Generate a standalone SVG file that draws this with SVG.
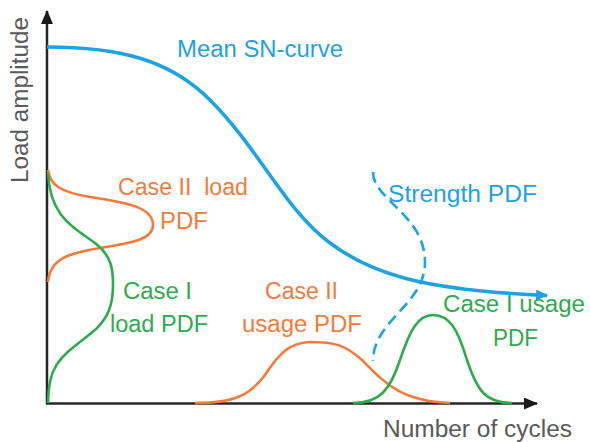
<svg xmlns="http://www.w3.org/2000/svg" width="590" height="442" viewBox="0 0 590 442">
  <style>
    text { font-family: "Liberation Sans", Arial, sans-serif; font-size: 23px; }
    .axis { stroke: #262626; stroke-width: 2.5; fill: none; }
    .axis-label { fill: #595959; }
    .blue { stroke: #1ea2e0; fill: none; }
    .orange { stroke: #f47a3c; fill: none; stroke-width: 2.6; }
    .green { stroke: #2eab4f; fill: none; stroke-width: 2.6; }
    .t-blue { fill: #1ea2e0; }
    .t-orange { fill: #f47a3c; }
    .t-green { fill: #2eab4f; }
  </style>
  <defs>
    <marker id="axisHead" viewBox="0 0 14 12" refX="13" refY="6" markerWidth="14" markerHeight="12" markerUnits="userSpaceOnUse" orient="auto">
      <path d="M0,0 L14,6 L0,12 Z" fill="#1a1a1a"/>
    </marker>
    <marker id="blueHead" viewBox="0 0 12 11" refX="11" refY="5.5" markerWidth="12" markerHeight="11" markerUnits="userSpaceOnUse" orient="auto">
      <path d="M0,0 L12,5.5 L0,11 Z" fill="#1ea2e0"/>
    </marker>
  </defs>

  <rect width="590" height="442" fill="#ffffff"/>

  <!-- axes -->
  <g id="axes">
    <line class="axis" x1="47" y1="404" x2="47" y2="11" marker-end="url(#axisHead)"/>
    <line class="axis" x1="46" y1="403.5" x2="537" y2="403.5" marker-end="url(#axisHead)"/>
    <text class="axis-label" transform="translate(28,183) rotate(-90)" textLength="166" lengthAdjust="spacingAndGlyphs">Load amplitude</text>
    <text class="axis-label" x="383" y="437" textLength="189" lengthAdjust="spacingAndGlyphs">Number of cycles</text>
  </g>

  <!-- curves -->
  <g id="connectors">
    <path id="sn-curve" class="blue" stroke-width="3.6" marker-end="url(#blueHead)"
          d="M47,47 C120,47 170,60 210,100 C260,150 285,210 330,243 C370,273 420,290 547,295.5"/>
    <path id="strength-pdf" class="blue" stroke-width="2.6" stroke-dasharray="11,6"
          d="M373,172 C373,200 425,215 425,262 C425,305 373,320 373,361"/>
    <path id="case2-load-pdf" class="orange"
          d="M48,170 C50,185 60,192 90,197 C130,203 153,208 153,225 C153,240 130,243 100,248 C70,253 50,258 48,282"/>
    <path id="case1-load-pdf" class="green"
          d="M48,173 C50,215 70,225 95,243 C112,256 113,270 113,285 C113,305 108,318 95,330 C65,355 48,360 48,403"/>
    <path id="case2-usage-pdf" class="orange"
          d="M195,403 C235,403 250,395 265,375 C280,352 290,343 310,342 C335,342 345,345 362,360 C385,383 400,401 450,403"/>
    <path id="case1-usage-pdf" class="green"
          d="M353,403 C380,403 390,390 400,360 C410,330 418,315 433,315 C450,315 458,330 467,360 C477,390 485,403 512,403"/>
  </g>

  <!-- labels -->
  <g id="label-sn">
    <text class="t-blue" x="177" y="57" textLength="166" lengthAdjust="spacingAndGlyphs">Mean SN-curve</text>
  </g>
  <g id="label-strength">
    <text class="t-blue" x="388" y="202" textLength="149" lengthAdjust="spacingAndGlyphs">Strength PDF</text>
  </g>
  <g id="label-case2-load">
    <text class="t-orange" x="118" y="195" textLength="130" lengthAdjust="spacingAndGlyphs">Case II&#160; load</text>
    <text class="t-orange" x="160" y="229" textLength="48" lengthAdjust="spacingAndGlyphs">PDF</text>
  </g>
  <g id="label-case1-load">
    <text class="t-green" x="123" y="299" textLength="69" lengthAdjust="spacingAndGlyphs">Case I</text>
    <text class="t-green" x="110" y="332" textLength="98" lengthAdjust="spacingAndGlyphs">load PDF</text>
  </g>
  <g id="label-case2-usage">
    <text class="t-orange" x="265" y="299" textLength="73" lengthAdjust="spacingAndGlyphs">Case II</text>
    <text class="t-orange" x="242" y="332" textLength="120" lengthAdjust="spacingAndGlyphs">usage PDF</text>
  </g>
  <g id="label-case1-usage">
    <text class="t-green" x="443" y="312" textLength="142" lengthAdjust="spacingAndGlyphs">Case I usage</text>
    <text class="t-green" x="493" y="346" textLength="45" lengthAdjust="spacingAndGlyphs">PDF</text>
  </g>
</svg>
